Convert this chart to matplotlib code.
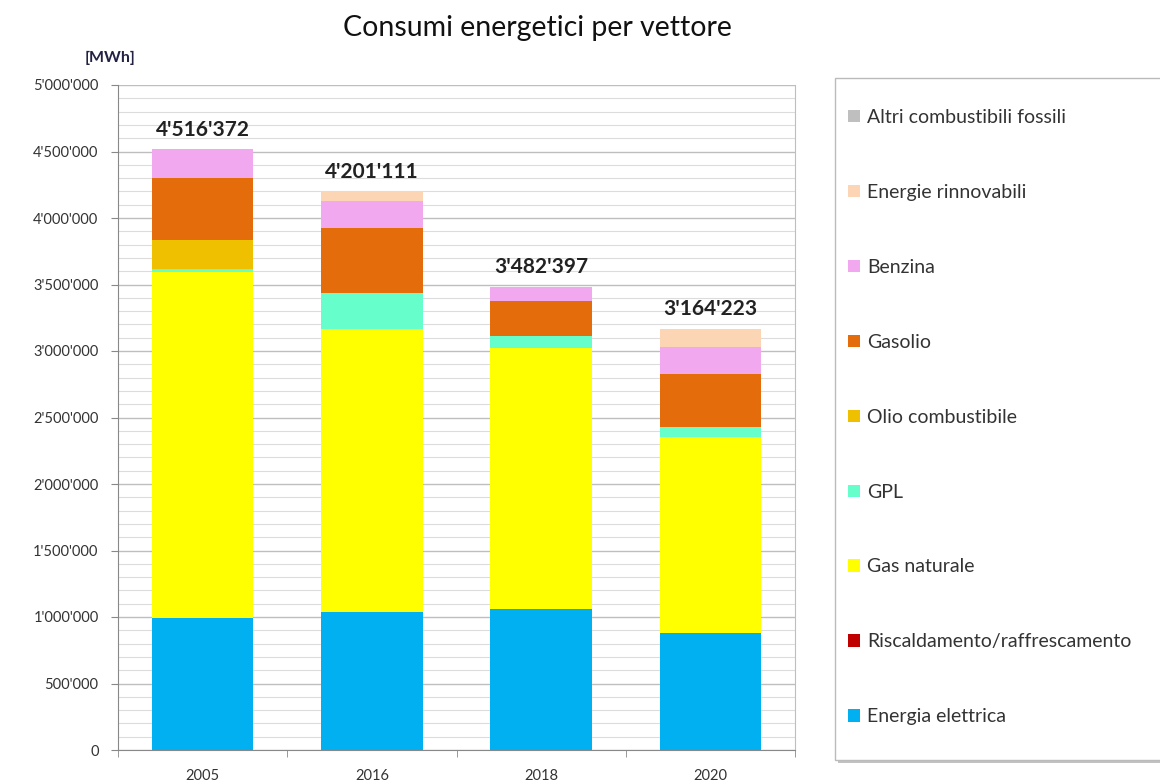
import matplotlib
matplotlib.use("Agg")
from matplotlib import pyplot as plt
from matplotlib.patches import Patch, Rectangle
from matplotlib.ticker import MultipleLocator, FuncFormatter

plt.rcParams["font.family"] = ["Lato", "DejaVu Sans"]

anni = ["2005", "2016", "2018", "2020"]

# valori in MWh, dal basso verso l'alto
energia_elettrica = [990000, 1038000, 1060000, 880000]
riscaldamento = [0, 0, 0, 0]
gas_naturale = [2604000, 2127000, 1963000, 1473000]
gpl = [23000, 271000, 90000, 77000]
olio_combustibile = [218000, 0, 0, 0]
gasolio = [465000, 489000, 263000, 397000]
benzina = [216372, 203111, 106397, 203223]
rinnovabili = [0, 73000, 0, 134000]
altri_fossili = [0, 0, 0, 0]

totali = ["4'516'372", "4'201'111", "3'482'397", "3'164'223"]

serie = [
    ("Energia elettrica", energia_elettrica, "#00B0F0"),
    ("Riscaldamento/raffrescamento", riscaldamento, "#C00000"),
    ("Gas naturale", gas_naturale, "#FFFF00"),
    ("GPL", gpl, "#66FFCC"),
    ("Olio combustibile", olio_combustibile, "#EEC000"),
    ("Gasolio", gasolio, "#E46C0A"),
    ("Benzina", benzina, "#F2A8EE"),
    ("Energie rinnovabili", rinnovabili, "#FCD5B5"),
    ("Altri combustibili fossili", altri_fossili, "#BFBFBF"),
]

W, H = 1160, 784
fig = plt.figure(figsize=(W / 100, H / 100), dpi=100)
ax = fig.add_axes([118 / W, 1 - 750 / H, (795 - 118) / W, (750 - 85) / H])

x = list(range(len(anni)))
bottom = [0] * len(anni)
for nome, valori, colore in serie:
    ax.bar(x, valori, 0.6, bottom=bottom, color=colore, zorder=3)
    bottom = [b + v for b, v in zip(bottom, valori)]

for i, t in enumerate(totali):
    ax.annotate(t, (x[i], bottom[i]), xytext=(0, 7), textcoords="offset points",
                ha="center", va="bottom", fontsize=15, fontweight="bold", color="#222222")

ax.set_xlim(-0.5, len(anni) - 0.5)
ax.set_ylim(0, 5000000)
ax.yaxis.set_major_locator(MultipleLocator(500000))
ax.yaxis.set_minor_locator(MultipleLocator(100000))
ax.yaxis.set_major_formatter(FuncFormatter(lambda v, p: f"{int(v):,}".replace(",", "'")))
ax.grid(axis="y", which="major", color="#BEBEBE", linewidth=1.0, zorder=0)
ax.grid(axis="y", which="minor", color="#DCDCDC", linewidth=0.8, zorder=0)

ax.set_xticks(x)
ax.set_xticklabels(anni)
ax.set_xticks([i + 0.5 for i in x[:-1]] + [-0.5, len(anni) - 0.5], minor=True)
ax.tick_params(axis="x", which="major", length=0, labelsize=10.5, pad=14, colors="#333333")
ax.tick_params(axis="x", which="minor", length=5, color="#888888")
ax.tick_params(axis="y", which="major", length=5, color="#888888", labelsize=10.5,
               labelcolor="#333333", pad=9)
ax.tick_params(axis="y", which="minor", length=0)

ax.spines["top"].set_visible(False)
ax.spines["left"].set_color("#888888")
ax.spines["bottom"].set_color("#888888")
ax.spines["right"].set_color("#BEBEBE")

fig.text(537 / W, 1 - 28 / H, "Consumi energetici per vettore", ha="center", va="center",
         fontsize=20.5, color="#111111")
fig.text(110 / W, 1 - 58 / H, "[MWh]", ha="center", va="center", fontsize=11.5,
         fontweight="bold", color="#222244")

# riquadro della legenda con ombra
fig.patches.append(Rectangle((838 / W, 1 - 763 / H), 340 / W, 682 / H,
                             transform=fig.transFigure, facecolor="#9A9A9A",
                             edgecolor="none", alpha=0.6))
fig.patches.append(Rectangle((835 / W, 1 - 760 / H), 340 / W, 682 / H,
                             transform=fig.transFigure, facecolor="white",
                             edgecolor="#BBBBBB", linewidth=1.0))

handles = [Patch(facecolor=c, edgecolor="none") for _, _, c in reversed(serie)]
labels = [n for n, _, _ in reversed(serie)]
leg = fig.legend(handles, labels, loc="upper left", bbox_to_anchor=(842 / W, 1 - 103 / H),
                 frameon=False, fontsize=14, labelspacing=2.98, handlelength=0.6,
                 handleheight=0.6, handletextpad=0.4, borderpad=0.3, borderaxespad=0)
for t in leg.get_texts():
    t.set_color("#333333")

fig.savefig("out.png", dpi=100)
